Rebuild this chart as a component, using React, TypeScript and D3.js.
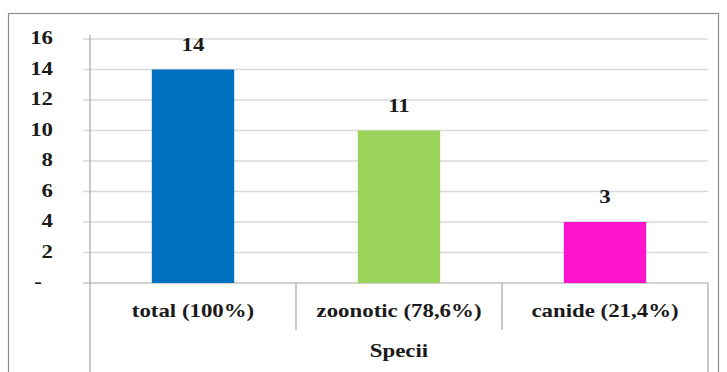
import React from "react";
import * as d3 from "d3";

const categories = ["total (100%)", "zoonotic (78,6%)", "canide (21,4%)"];
const barValues = [14, 10, 4];
const valueLabels = ["14", "11", "3"];
const barColors = ["#0070C0", "#9BD45A", "#FF14CC"];
const yTicks = [0, 2, 4, 6, 8, 10, 12, 14, 16];
const axisTitle = "Specii";

const FONT = "'Liberation Serif', 'DejaVu Serif', serif";
const SX = 1.27;

function T(props: { x: number; y: number; anchor?: string; children: React.ReactNode }) {
  const { x, y, anchor = "middle", children } = props;
  return (
    <text
      transform={`translate(${x},${y}) scale(${SX},1)`}
      dy="0.35em"
      textAnchor={anchor}
      style={{ fontFamily: FONT, fontWeight: 700, fontSize: 18 }}
      fill="#1a1a1a"
    >
      {children}
    </text>
  );
}

export default function App() {
  const W = 727, H = 372;
  const left = 90, right = 708, top = 39, bottom = 283;
  const y = d3.scaleLinear().domain([0, 16]).range([bottom, top]);
  const x = d3.scaleBand<string>().domain(categories).range([left, right]).paddingInner(0).paddingOuter(0);
  const bw = x.bandwidth() * 0.4;
  return (
    <svg width={W} height={H} style={{ position: "absolute", left: 0, top: 0, background: "#fff" }}>
      <rect x={8.5} y={13.5} width={710} height={H} fill="#fff" stroke="#8c8c8c" strokeWidth={1.2} />
      {yTicks.map((t) => (
        <line key={t} x1={left - 7} x2={right} y1={y(t)} y2={y(t)} stroke={t === 0 ? "#a6a6a6" : "#d9d9d9"} strokeWidth={t === 0 ? 1.2 : 1.5} />
      ))}
      {yTicks.map((t) => (
        <T key={"l" + t} x={t === 0 ? 38 : 53} y={y(t) - 1} anchor={t === 0 ? "middle" : "end"}>
          {t === 0 ? "-" : String(t)}
        </T>
      ))}
      {categories.map((c, i) => (
        <rect key={c} x={(x(c) as number) + (x.bandwidth() - bw) / 2} y={y(barValues[i])} width={bw} height={y(0) - y(barValues[i])} fill={barColors[i]} />
      ))}
      {categories.map((c, i) => (
        <T key={"v" + c} x={(x(c) as number) + x.bandwidth() / 2} y={y(barValues[i]) - 25}>
          {valueLabels[i]}
        </T>
      ))}
      <line x1={left} x2={left} y1={top - 4} y2={H} stroke="#a6a6a6" strokeWidth={1.2} />
      <line x1={right} x2={right} y1={bottom} y2={H} stroke="#a6a6a6" strokeWidth={1.2} />
      {categories.slice(1).map((c) => (
        <line key={"s" + c} x1={x(c) as number} x2={x(c) as number} y1={bottom} y2={330} stroke="#a6a6a6" strokeWidth={1.2} />
      ))}
      {categories.map((c) => (
        <T key={"c" + c} x={(x(c) as number) + x.bandwidth() / 2} y={311}>
          {c}
        </T>
      ))}
      <T x={(left + right) / 2} y={351}>
        {axisTitle}
      </T>
    </svg>
  );
}
